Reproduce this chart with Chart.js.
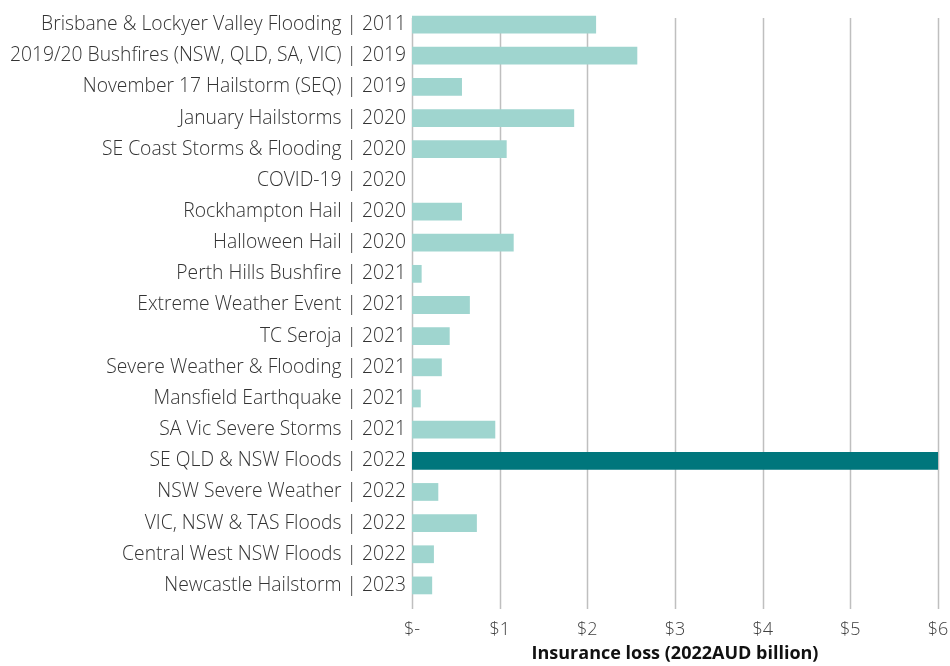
<!DOCTYPE html>
<html>
<head>
<meta charset="utf-8">
<script src="https://cdn.jsdelivr.net/npm/chart.js@4/dist/chart.umd.min.js"></script>
<style>
html,body{margin:0;padding:0;background:#fff;}
#wrap{width:950px;height:666px;position:relative;}
</style>
</head>
<body>
<div id="wrap"><canvas id="c" width="950" height="666"></canvas></div>
<script>
const categories = [
  "Brisbane & Lockyer Valley Flooding | 2011",
  "2019/20 Bushfires (NSW, QLD, SA, VIC) | 2019",
  "November 17 Hailstorm (SEQ) | 2019",
  "January Hailstorms | 2020",
  "SE Coast Storms & Flooding | 2020",
  "COVID-19 | 2020",
  "Rockhampton Hail | 2020",
  "Halloween Hail | 2020",
  "Perth Hills Bushfire | 2021",
  "Extreme Weather Event | 2021",
  "TC Seroja | 2021",
  "Severe Weather & Flooding | 2021",
  "Mansfield Earthquake | 2021",
  "SA Vic Severe Storms | 2021",
  "SE QLD & NSW Floods | 2022",
  "NSW Severe Weather | 2022",
  "VIC, NSW & TAS Floods | 2022",
  "Central West NSW Floods | 2022",
  "Newcastle Hailstorm | 2023"
];
const lossValues = [2.10, 2.57, 0.57, 1.85, 1.08, 0, 0.57, 1.16, 0.11, 0.66, 0.43, 0.34, 0.10, 0.95, 6.0, 0.30, 0.74, 0.25, 0.23];
const highlightIndex = 14;
const tickLabels = ["$-", "$1", "$2", "$3", "$4", "$5", "$6"];
const axisTitle = "Insurance loss (2022AUD billion)";

const LIGHT = "#9fd5cf";
const DARK = "#00767c";
const GRID = "#bfbfbf";

const gridPlugin = {
  id: "customGrid",
  beforeDatasetsDraw(chart) {
    const xs = chart.scales.x;
    const ctx = chart.ctx;
    ctx.save();
    ctx.strokeStyle = GRID;
    ctx.lineWidth = 1.5;
    for (let v = 0; v < tickLabels.length; v++) {
      const px = Math.round(xs.getPixelForValue(v)) + 0.5;
      ctx.beginPath();
      ctx.moveTo(px, 18);
      ctx.lineTo(px, chart.chartArea.bottom + 8);
      ctx.stroke();
    }
    ctx.restore();
  }
};

new Chart(document.getElementById("c"), {
  type: "bar",
  data: {
    labels: categories,
    datasets: [{
      data: lossValues,
      backgroundColor: lossValues.map((v, i) => i === highlightIndex ? DARK : LIGHT),
      categoryPercentage: 1,
      barPercentage: 0.57
    }]
  },
  options: {
    indexAxis: "y",
    responsive: false,
    animation: false,
    layout: { padding: { top: 9, right: 12, left: 0, bottom: 0 } },
    plugins: { legend: { display: false }, tooltip: { enabled: false } },
    scales: {
      x: {
        min: 0, max: 6,
        ticks: {
          stepSize: 1,
          padding: 10,
          color: "#404040",
          font: { family: "'Open Sans'", size: 18, weight: 300 },
          callback: (v) => tickLabels[v]
        },
        grid: { display: false },
        border: { display: false },
        title: {
          display: true,
          text: axisTitle,
          color: "#111",
          font: { family: "'Open Sans'", size: 18, weight: "bold" },
          padding: { top: 0, bottom: 1 }
        },
        afterFit(scale) { scale.height = 65; scale.paddingLeft = 0; scale.paddingRight = 0; }
      },
      y: {
        ticks: {
          padding: 6,
          color: "#333",
          font: { family: "'Open Sans'", size: 19.3, weight: 300 }
        },
        grid: { display: false, drawTicks: false },
        border: { display: false },
        afterFit(scale) { scale.width = 412; scale.paddingTop = 0; scale.paddingBottom = 0; }
      }
    }
  },
  plugins: [gridPlugin]
});
</script>
</body>
</html>
